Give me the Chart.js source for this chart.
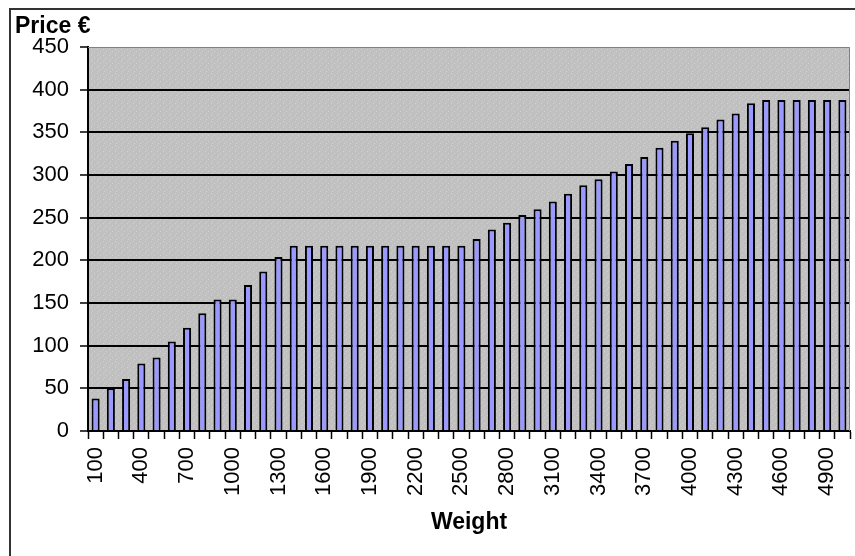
<!DOCTYPE html>
<html>
<head>
<meta charset="utf-8">
<title>Price by weight</title>
<script src="https://cdn.jsdelivr.net/npm/chart.js@4.4.1/dist/chart.umd.min.js"></script>
<style>
    body { margin: 0; background: #ffffff; }
    #chartBox { width: 855px; height: 556px; }
</style>
</head>
<body>
<div id="chartBox"><canvas id="priceChart" width="855" height="556"></canvas></div>
<script>
// Weight categories (x axis)
const weights = [
    100, 200, 300, 400, 500, 600, 700, 800, 900, 1000,
    1100, 1200, 1300, 1400, 1500, 1600, 1700, 1800, 1900, 2000,
    2100, 2200, 2300, 2400, 2500, 2600, 2700, 2800, 2900, 3000,
    3100, 3200, 3300, 3400, 3500, 3600, 3700, 3800, 3900, 4000,
    4100, 4200, 4300, 4400, 4500, 4600, 4700, 4800, 4900, 5000
];

// Price in euro
const prices = [
    38, 50, 61, 79, 86, 105, 121, 138, 154, 154,
    171, 187, 204, 217, 217, 217, 217, 217, 217, 217,
    217, 217, 217, 217, 217, 225, 236, 244, 253, 260,
    269, 278, 288, 295, 304, 313, 321, 332, 340, 349,
    356, 365, 372, 384, 388, 388, 388, 388, 388, 388
];

const yMin = 0;
const yMax = 450;
const yStep = 50;
const labelEvery = 3;

const FONT = 'Arial, "Liberation Sans", sans-serif';

// dotted grey fill like the old Excel plot area
function makeDotPattern(ctx) {
    const p = document.createElement('canvas');
    p.width = 6;
    p.height = 6;
    const pc = p.getContext('2d');
    pc.fillStyle = '#c0c0c0';
    pc.fillRect(0, 0, 6, 6);
    pc.fillStyle = '#d2d2d2';
    pc.fillRect(1, 1, 1, 1);
    pc.fillRect(4, 3, 1, 1);
    pc.fillRect(2, 5, 1, 1);
    return ctx.createPattern(p, 'repeat');
}

const plotAreaPlugin = {
    id: 'plotArea',
    beforeDraw(chart) {
        const { ctx, chartArea } = chart;
        ctx.save();
        // outer frame (cut off at right and bottom)
        ctx.strokeStyle = '#333333';
        ctx.lineWidth = 2;
        ctx.beginPath();
        ctx.moveTo(10, 600);
        ctx.lineTo(10, 9);
        ctx.lineTo(900, 9);
        ctx.stroke();
        // plot background
        ctx.fillStyle = makeDotPattern(ctx);
        ctx.fillRect(chartArea.left, chartArea.top, chartArea.right - chartArea.left, chartArea.bottom - chartArea.top);
        ctx.restore();
    },
    beforeDatasetsDraw(chart) {
        const { ctx, chartArea } = chart;
        ctx.save();
        ctx.strokeStyle = '#808080';
        ctx.lineWidth = 1;
        ctx.beginPath();
        ctx.moveTo(chartArea.left, chartArea.top + 0.5);
        ctx.lineTo(chartArea.right - 0.5, chartArea.top + 0.5);
        ctx.lineTo(chartArea.right - 0.5, chartArea.bottom);
        ctx.stroke();
        ctx.restore();
    }
};

let chartConfig = {
    type: 'bar',
    data: {
        labels: weights,
        datasets: [{
            data: prices,
            backgroundColor: '#9999ff',
            borderColor: '#000000',
            borderWidth: 2,
            categoryPercentage: 1.0,
            barPercentage: 0.53
        }]
    },
    options: {
        responsive: false,
        animation: false,
        layout: {
            padding: { left: 15, top: 13, right: 5, bottom: 0 }
        },
        plugins: {
            legend: { display: false },
            tooltip: { enabled: false },
            title: {
                display: true,
                text: 'Price €',
                align: 'start',
                color: '#000000',
                font: { family: FONT, size: 23, weight: 'bold', lineHeight: 1.2 },
                padding: { top: 0, bottom: 6.4 }
            }
        },
        scales: {
            x: {
                border: { display: true, color: '#000000', width: 2 },
                grid: {
                    drawOnChartArea: false,
                    drawTicks: true,
                    tickLength: 8,
                    tickColor: '#000000',
                    tickWidth: 1.5
                },
                ticks: {
                    autoSkip: false,
                    minRotation: 90,
                    maxRotation: 90,
                    padding: 8,
                    color: '#000000',
                    font: { family: FONT, size: 22 },
                    callback: function (value, index) {
                        return index % labelEvery === 0 ? weights[index] : '';
                    }
                },
                title: {
                    display: true,
                    text: 'Weight',
                    color: '#000000',
                    font: { family: FONT, size: 23, weight: 'bold', lineHeight: 1.2 },
                    padding: { top: 0, bottom: 20 }
                },
                afterFit: function (scale) {
                    scale.height = 125;
                    // no extra room for the rotated end labels
                    scale.paddingLeft = 0;
                    scale.paddingRight = 0;
                }
            },
            y: {
                min: yMin,
                max: yMax,
                border: { display: true, color: '#000000', width: 2 },
                grid: {
                    color: function (c) {
                        return c.tick && c.tick.value === yMax ? 'rgba(0,0,0,0)' : '#000000';
                    },
                    lineWidth: 2,
                    tickLength: 8,
                    tickColor: '#000000',
                    tickWidth: 1.5
                },
                ticks: {
                    stepSize: yStep,
                    padding: 11,
                    color: '#000000',
                    font: { family: FONT, size: 22 }
                },
                afterFit: function (scale) {
                    scale.width = 73;
                }
            }
        }
    },
    plugins: [plotAreaPlugin]
};

const priceChart = new Chart(document.getElementById('priceChart'), chartConfig);
</script>
</body>
</html>
